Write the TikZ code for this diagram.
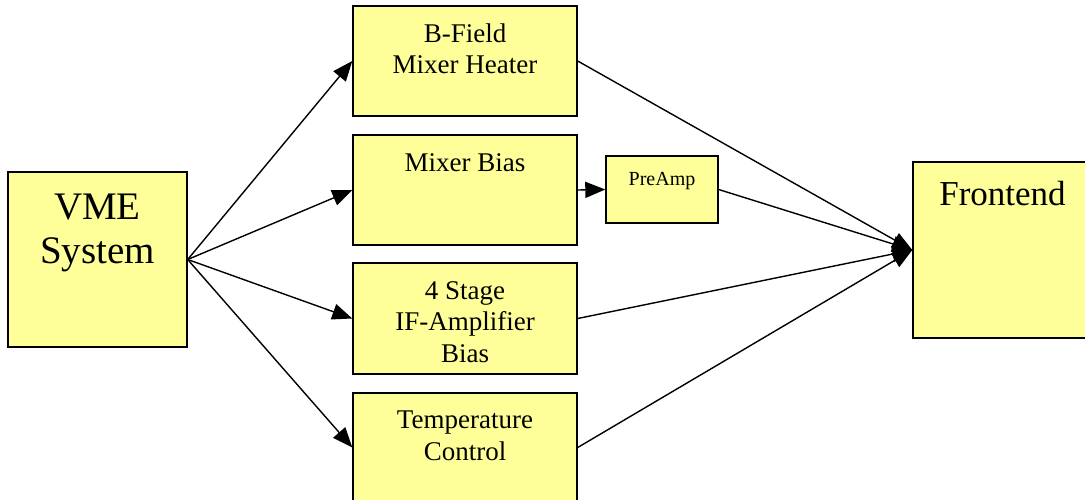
\documentclass[tikz,border=0pt]{standalone}
\usepackage{fontspec}
\setmainfont{Liberation Serif}
\usetikzlibrary{arrows.meta}
\definecolor{boxfill}{HTML}{FFFF99}
\tikzset{
  box/.style={draw=black, fill=boxfill, line width=1.4pt, rectangle, inner sep=0pt},
  txt/.style={anchor=base, inner sep=0pt, font=\fontsize{27}{31}\selectfont},
  bigtxt/.style={anchor=base, inner sep=0pt, font=\fontsize{39}{44}\selectfont},
  fetxt/.style={anchor=base, inner sep=0pt, font=\fontsize{35}{40}\selectfont},
  smalltxt/.style={anchor=base, inner sep=0pt, font=\fontsize{20}{24}\selectfont},
  arr/.style={line width=1.4pt, -{Triangle[length=20pt,width=16pt]}},
}
\begin{document}
\begin{tikzpicture}[x=1pt,y=-1pt]
\useasboundingbox (0,0) rectangle (1085,499);
\clip (0,0) rectangle (1085,499);
% boxes
\node[box, minimum width=179pt, minimum height=175pt] (vme) at (97.5,259.5) {};
\node[box, minimum width=224pt, minimum height=110pt] (bf) at (465,61) {};
\node[box, minimum width=224pt, minimum height=110pt] (mb) at (465,190) {};
\node[box, minimum width=112pt, minimum height=67pt] (pre) at (662,189.5) {};
\node[box, minimum width=224pt, minimum height=111pt] (ifa) at (465,318.5) {};
\node[box, minimum width=224pt, minimum height=109pt] (tc) at (465,447.5) {};
\node[box, minimum width=190pt, minimum height=176pt] (fe) at (1008,250) {};
% texts
\node[bigtxt] (vmeA) at (97.5,219) {VME};
\node[bigtxt] (vmeB) at (97.5,263) {System};
\node[txt] (bfA) at (465,42) {B-Field};
\node[txt] (bfB) at (465,73) {Mixer Heater};
\node[txt] (mbA) at (465,171) {Mixer Bias};
\node[smalltxt] (preA) at (662,185) {PreAmp};
\node[txt] (ifaA) at (465,299) {4 Stage};
\node[txt] (ifaB) at (465,330) {IF-Amplifier};
\node[txt] (ifaC) at (465,362) {Bias};
\node[txt] (tcA) at (465,428) {Temperature};
\node[txt] (tcB) at (465,460) {Control};
\node[fetxt] (feA) at (1002.5,205) {Frontend};
% connectors
\draw[arr] (vme.east) -- (bf.west);
\draw[arr] (vme.east) -- (mb.west);
\draw[arr] (vme.east) -- (ifa.west);
\draw[arr] (vme.east) -- (tc.west);
\draw[arr] (mb.east) -- (pre.west);
\draw[arr] (bf.east) -- (fe.west);
\draw[arr] (pre.east) -- (fe.west);
\draw[arr] (ifa.east) -- (fe.west);
\draw[arr] (tc.east) -- (fe.west);
\end{tikzpicture}
\end{document}
